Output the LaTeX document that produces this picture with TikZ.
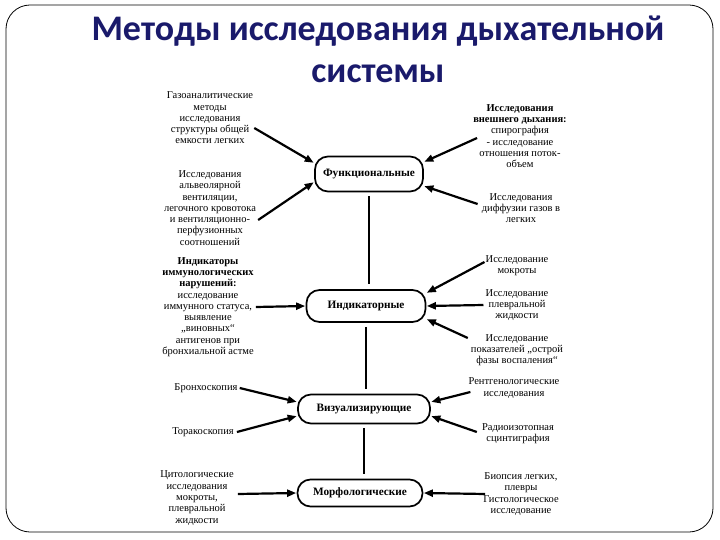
\documentclass[tikz,border=0pt]{standalone}
\usepackage{fontspec}
\setmainfont{Liberation Serif}
\newfontfamily\titlefont{Carlito}
\usetikzlibrary{positioning, arrows.meta, calc}
\definecolor{titleblue}{HTML}{1A1A6B}

\begin{document}
\begin{tikzpicture}[x=1pt, y=-1pt,
  method/.style={rectangle, rounded corners=13pt, draw=black, line width=1.7pt,
    inner xsep=3pt, font=\fontsize{11.3}{12}\selectfont\bfseries},
  note/.style={align=center, inner sep=0pt, font=\fontsize{10.5}{11.3}\selectfont},
  arr/.style={-{Triangle[length=9pt, width=7pt]}, line width=2.2pt, shorten >=0.5pt},
  link/.style={line width=2.2pt, shorten <=4pt, shorten >=5pt}
]
\useasboundingbox (0,0) rectangle (720,540);
\draw[line width=0.8pt, rounded corners=24pt] (6,5) rectangle (713,532);

\node[font=\titlefont\bfseries\fontsize{36}{42}\selectfont, text=titleblue, align=center]
  (title) at (378,49) {Методы исследования дыхательной\\системы};

% methods
\node[method, minimum width=108pt, minimum height=35pt] (func)  at (369,174) {Функциональные};
\node[method, minimum width=119pt, minimum height=32pt] (indik) at (366,306) {Индикаторные};
\node[method, minimum width=132pt, minimum height=29pt] (vis)   at (364,409) {Визуализирующие};
\node[method, minimum width=125pt, minimum height=27pt] (morph) at (360,493) {Морфологические};

\draw[link] (func) -- (func |- indik.north);
\draw[link] (indik) -- (indik |- vis.north);
\draw[link] (vis) -- (vis |- morph.north);

% left side
\node[note] (gas) at (210,118) {Газоаналитические\\методы\\исследования\\структуры общей\\емкости легких};
\node[note] (alv) at (210,208) {Исследования\\альвеолярной\\вентиляции,\\легочного кровотока\\и вентиляционно-\\перфузионных\\соотношений};
\node[note] (immun) at (208,307) {\textbf{Индикаторы}\\\textbf{иммунологических}\\\textbf{нарушений:}\\исследование\\иммунного статуса,\\выявление\\„виновных“\\антигенов при\\бронхиальной астме};
\node[note] (bronch) at (206,388) {Бронхоскопия};
\node[note] (thorac) at (203,432) {Торакоскопия};
\node[note] (cyto) at (197,498) {Цитологические\\исследования\\мокроты,\\плевральной\\жидкости};

% right side
\node[note] (ext) at (520,136) {\textbf{Исследования}\\\textbf{внешнего дыхания:}\\спирография\\- исследование\\отношения поток-\\объем};
\node[note] (diff) at (521,208) {Исследования\\диффузии газов в\\легких};
\node[note] (sput) at (517,266) {Исследование\\мокроты};
\node[note] (pleur) at (517,305) {Исследование\\плевральной\\жидкости};
\node[note] (acute) at (517,350) {Исследование\\показателей „острой\\фазы воспаления“};
\node[note] (xray) at (514,388) {Рентгенологические\\исследования};
\node[note] (radio) at (518,434) {Радиоизотопная\\сцинтиграфия};
\node[note] (biopsy) at (521,494) {Биопсия легких,\\плевры\\Гистологическое\\исследование};

\draw[arr] ([xshift=1pt, yshift=-10pt]gas.east) -- ([yshift=11pt]func.west);
\draw[arr] ([xshift=2pt, yshift=-12pt]alv.east) -- ([yshift=-8pt]func.west);
\draw[arr] ([xshift=2pt]immun.east) -- (indik.west);
\draw[arr] ([xshift=2pt]bronch.east) -- ([yshift=7pt]vis.west);
\draw[arr] ([xshift=3pt]thorac.east) -- ([yshift=-7pt]vis.west);
\draw[arr] ([xshift=4pt, yshift=4pt]cyto.east) -- (morph.west);

\draw[arr] ([xshift=4pt, yshift=-2pt]ext.west) -- ([yshift=12pt]func.east);
\draw[arr] ([xshift=-4pt, yshift=4pt]diff.west) -- ([yshift=-12pt]func.east);
\draw[arr] ([xshift=-1pt, yshift=4pt]sput.west) -- ([yshift=13pt]indik.east);
\draw[arr] ([xshift=-2pt]pleur.west) -- (indik.east);
\draw[arr] ([xshift=-3pt, yshift=12pt]acute.west) -- ([yshift=-13pt]indik.east);
\draw[arr] ([xshift=2pt, yshift=-4pt]xray.west) -- ([yshift=7pt]vis.east);
\draw[arr] ([xshift=-5pt, yshift=2pt]radio.west) -- ([yshift=-7pt]vis.east);
\draw[arr] ([xshift=2pt]biopsy.west) -- (morph.east);
\end{tikzpicture}
\end{document}
